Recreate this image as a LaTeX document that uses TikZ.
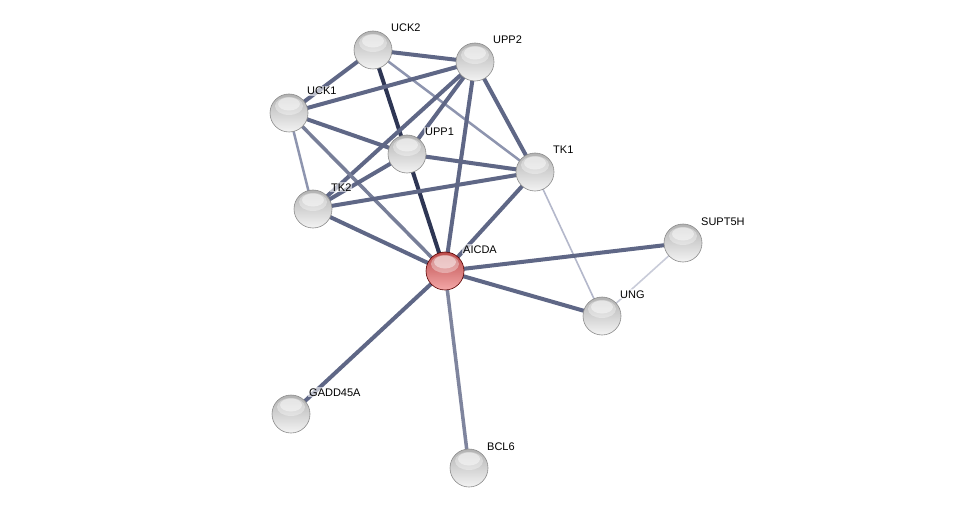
\documentclass[tikz,border=0pt]{standalone}
\usepackage{fontspec}
\setmainfont{Liberation Sans}
\usetikzlibrary{backgrounds}
\definecolor{edgeN}{HTML}{5F6786}
\definecolor{edgeD}{HTML}{2E3654}
\definecolor{edgeL}{HTML}{8E95AF}
\definecolor{edgeVL}{HTML}{B4B8CB}
\definecolor{edgeXL}{HTML}{C9CCD9}
\definecolor{gTop}{HTML}{B2B2B2}
\definecolor{gMid}{HTML}{D2D2D2}
\definecolor{gBot}{HTML}{F3F3F3}
\definecolor{rTop}{HTML}{BC4C4C}
\definecolor{rMid}{HTML}{D96C6C}
\definecolor{rBot}{HTML}{F4A8A8}
\tikzset{
  hl/.style={path picture={
      \fill[white,opacity=.35] ([yshift=7pt]path picture bounding box.center) ellipse [x radius=14pt, y radius=9pt];
      \fill[white,opacity=.45] ([yshift=9pt]path picture bounding box.center) ellipse [x radius=11pt, y radius=6.5pt];}},
  prot/.style={circle, minimum size=38pt, inner sep=0pt, draw=black!45, line width=0.6pt,
    top color=gTop, middle color=gMid, bottom color=gBot, hl},
  protred/.style={prot, draw=red!35!black, top color=rTop, middle color=rMid, bottom color=rBot},
  lbl/.style={anchor=base west, font=\fontsize{11}{13}\selectfont, inner sep=1pt,
    fill=white, fill opacity=.6, text opacity=1},
  en/.style={draw=edgeN, line width=4pt},
  ed/.style={draw=edgeD, line width=4pt},
  el/.style={draw=edgeL, line width=2.5pt},
  evl/.style={draw=edgeVL, line width=1.6pt},
  exl/.style={draw=edgeXL, line width=1.6pt},
}
\begin{document}
\begin{tikzpicture}[x=1pt,y=-1pt]
\useasboundingbox (0,0) rectangle (976,513);
\node[prot] (UCK2) at (373,50) {};
\node[prot] (UPP2) at (475,62) {};
\node[prot] (UCK1) at (289,113) {};
\node[prot] (UPP1) at (407,154) {};
\node[prot] (TK1) at (535,172) {};
\node[prot] (TK2) at (313,209) {};
\node[protred] (AICDA) at (445,271) {};
\node[prot] (SUPT5H) at (683,243) {};
\node[prot] (UNG) at (602,316) {};
\node[prot] (GADD45A) at (291,414) {};
\node[prot] (BCL6) at (469,468) {};
\foreach \n/\t in {UCK2/UCK2,UPP2/UPP2,UCK1/UCK1,UPP1/UPP1,TK1/TK1,TK2/TK2,AICDA/AICDA,SUPT5H/SUPT5H,UNG/UNG,GADD45A/GADD45A,BCL6/BCL6}
  \node[lbl] (\n-l) at ([xshift=17pt,yshift=18pt]\n.center) {\t};
\begin{scope}[on background layer]
\fill[white] (0,0) rectangle (976,513);
\draw[en] (UCK2.center) -- (UPP2.center);
\draw[en] (UCK2.center) -- (UCK1.center);
\draw[ed] (UCK2.center) -- (UPP1.center);
\draw[el] (UCK2.center) -- (TK1.center);
\draw[en] (UPP2.center) -- (UCK1.center);
\draw[en] (UPP2.center) -- (UPP1.center);
\draw[en] (UPP2.center) -- (TK1.center);
\draw[en] (UPP2.center) -- (TK2.center);
\draw[en] (UPP2.center) -- (AICDA.center);
\draw[en] (UCK1.center) -- (UPP1.center);
\draw[el] (UCK1.center) -- (TK2.center);
\draw[draw=edgeN!85!white, line width=3.5pt] (UCK1.center) -- (AICDA.center);
\draw[en] (UPP1.center) -- (TK1.center);
\draw[en] (UPP1.center) -- (TK2.center);
\draw[ed] (UPP1.center) -- (AICDA.center);
\draw[en] (TK1.center) -- (TK2.center);
\draw[en] (TK1.center) -- (AICDA.center);
\draw[evl] (TK1.center) -- (UNG.center);
\draw[en] (TK2.center) -- (AICDA.center);
\draw[en] (AICDA.center) -- (SUPT5H.center);
\draw[en] (AICDA.center) -- (UNG.center);
\draw[en] (AICDA.center) -- (GADD45A.center);
\draw[draw=edgeN!80!white, line width=3.5pt] (AICDA.center) -- (BCL6.center);
\draw[exl] (SUPT5H.center) -- (UNG.center);
\end{scope}
\end{tikzpicture}
\end{document}
